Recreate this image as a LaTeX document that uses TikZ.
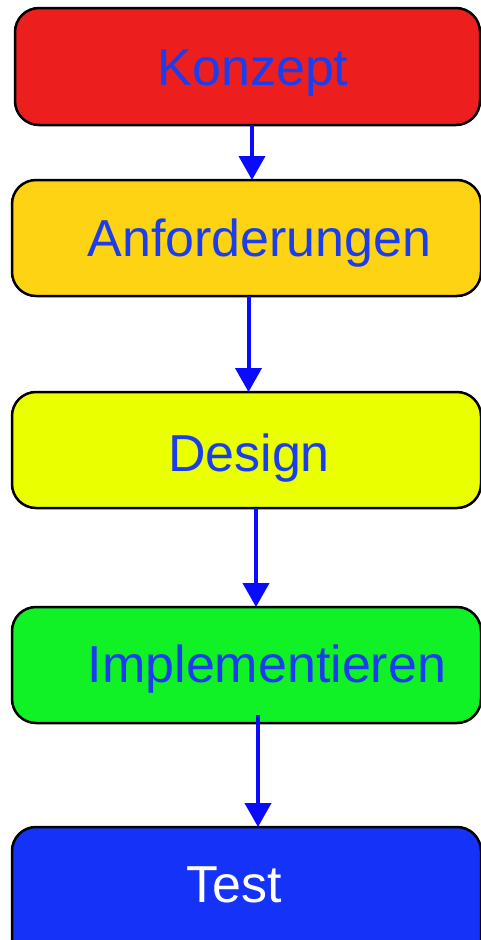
\documentclass[tikz,border=0pt]{standalone}
\usepackage{fontspec}
\setmainfont{Liberation Sans}
\usetikzlibrary{arrows.meta}
\definecolor{cRed}{HTML}{EC1E1E}
\definecolor{cOrange}{HTML}{FDD314}
\definecolor{cYellow}{HTML}{EAFF00}
\definecolor{cGreen}{HTML}{10F226}
\definecolor{cBlue}{HTML}{1432F8}
\definecolor{cText}{HTML}{1A3EEE}
\definecolor{cArrow}{HTML}{0A0AFF}
\begin{document}
\begin{tikzpicture}[x=1pt,y=-1pt,
  phase/.style={draw=black, line width=2.5pt, rounded corners=24pt,
    inner sep=0pt, outer sep=0pt},
  phasetext/.style={anchor=base, inner sep=0pt, text=cText,
    font=\fontsize{52}{60}\selectfont},
  flow/.style={draw=cArrow, line width=4pt,
    -{Triangle[width=26pt,length=24pt]}}]
  \useasboundingbox (0,0) rectangle (481,940);
  \begin{scope}
    \clip (0,0) rectangle (481,940);
    % phase boxes
    \node[phase, fill=cRed,    minimum width=465pt, minimum height=117pt] (k) at (247.5,66.5) {};
    \node[phase, fill=cOrange, minimum width=469pt, minimum height=116pt] (a) at (246.5,238) {};
    \node[phase, fill=cYellow, minimum width=469pt, minimum height=116pt] (d) at (246.5,450) {};
    \node[phase, fill=cGreen,  minimum width=469pt, minimum height=116pt] (i) at (246.5,665) {};
    \node[phase, fill=cBlue,   minimum width=469pt, minimum height=153pt] (t) at (246.5,903.5) {};
  \end{scope}
  % labels
  \node[phasetext] (kl) at (253,85)  {Konzept};
  \node[phasetext] (al) at (259.5,256) {Anforderungen};
  \node[phasetext] (dl) at (249,471) {Design};
  \node[phasetext] (il) at (267,682) {Implementieren};
  \node[phasetext, text=white] (tl) at (234,902) {Test};
  % connectors
  \draw[flow] (k.south -| 252,0) -- (a.north -| 252,0);
  \draw[flow] (a.south -| 248.5,0) -- (d.north -| 248.5,0);
  \draw[flow] (d.south -| 256,0) -- (i.north -| 256,0);
  \draw[flow] ([yshift=8pt]i.south -| 258,0) -- (t.north -| 258,0);
\end{tikzpicture}
\end{document}
